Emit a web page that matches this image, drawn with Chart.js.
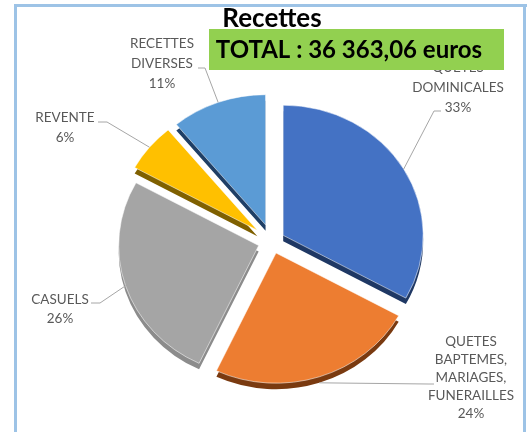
<!DOCTYPE html>
<html><head><meta charset="utf-8">
<script src="https://cdn.jsdelivr.net/npm/chart.js@4/dist/chart.umd.min.js"></script>
<style>html,body{margin:0;padding:0;background:#fff;}#wrap{width:527px;height:432px;position:relative}canvas{display:block}</style>
</head><body><div id="wrap"><canvas id="c" width="527" height="432"></canvas></div>
<script>
// ---- data ----
const categories = [
  ['QUETES', 'DOMINICALES'],
  ['QUETES', 'BAPTEMES,', 'MARIAGES,', 'FUNERAILLES'],
  ['CASUELS'],
  ['REVENTE'],
  ['RECETTES', 'DIVERSES']
];
const shares = [33, 24, 26, 6, 11];
const titleText = 'Recettes';
const totalText = 'TOTAL : 36 363,06 euros';

// ---- styles ----
const colors = ['#4472C4', '#ED7D31', '#A5A5A5', '#FFC000', '#5B9BD5'];
const depthColors = ['#1F3864', '#7A3A10', '#8C8C8C', '#7F6000', '#1F3F66'];
const explode = [13, 13, 14, 19, 19];
const Y_SQUASH = 0.93;
const DEPTH = 6;
const FONT = 'Lato, "Liberation Sans", sans-serif';
const labelLayout = [
  {x: 458, y: 68,  lh: 20, attach: [441, 111], elbow: [434, 111]},
  {x: 471, y: 342, lh: 18, attach: [434, 384], elbow: [428, 384]},
  {x: 60,  y: 300, lh: 19, attach: [91, 303],  elbow: [100, 303]},
  {x: 65,  y: 118, lh: 20, attach: [98, 122],  elbow: [107, 122]},
  {x: 162, y: 44,  lh: 20, attach: [198, 68],  elbow: [205, 68]}
];

function drawArcShifted(ctx, arc, i, bg, dy) {
  const a = (arc.startAngle + arc.endAngle) / 2;
  const fake = Object.create(arc);
  fake.options = Object.assign({}, arc.options, {backgroundColor: bg, offset: 0});
  if (dy) fake.options.borderWidth = 0;
  ctx.save();
  ctx.translate(Math.cos(a) * explode[i], Math.sin(a) * explode[i] + dy);
  fake.draw(ctx);
  ctx.restore();
}

const pie3d = {
  id: 'pie3d',
  beforeDraw(chart) {
    const ctx = chart.ctx;
    ctx.save();
    ctx.fillStyle = '#fff';
    ctx.fillRect(0, 0, chart.width, chart.height);
    ctx.fillStyle = '#9DC3E6';
    ctx.fillRect(14, 4, 3, 428);
    ctx.fillRect(14, 4, 513, 3);
    ctx.fillRect(523, 4, 3, 428);
    ctx.restore();
  },
  beforeDatasetsDraw(chart) {
    const ctx = chart.ctx;
    const meta = chart.getDatasetMeta(0);
    const cx = meta.data[0].x, cy = meta.data[0].y;
    ctx.save();
    ctx.translate(cx, cy);
    ctx.scale(1, Y_SQUASH);
    ctx.translate(-cx, -cy);
    meta.data.forEach((arc, i) => drawArcShifted(ctx, arc, i, depthColors[i], DEPTH / Y_SQUASH));
    meta.data.forEach((arc, i) => drawArcShifted(ctx, arc, i, colors[i], 0));
    ctx.restore();
  },
  beforeDatasetDraw() {
    return false;
  },
  afterDatasetsDraw(chart) {
    const ctx = chart.ctx;
    const meta = chart.getDatasetMeta(0);
    const total = shares.reduce((a, b) => a + b, 0);
    ctx.save();
    meta.data.forEach((arc, i) => {
      const L = labelLayout[i];
      const a = (arc.startAngle + arc.endAngle) / 2;
      const d = explode[i] + arc.outerRadius;
      const px = arc.x + Math.cos(a) * d;
      let py = arc.y + Math.sin(a) * d * Y_SQUASH;
      if (Math.sin(a) > 0.5) py += DEPTH;
      ctx.strokeStyle = '#A6A6A6';
      ctx.lineWidth = 1;
      ctx.beginPath();
      ctx.moveTo(L.attach[0], L.attach[1]);
      ctx.lineTo(L.elbow[0], L.elbow[1]);
      ctx.lineTo(px, py);
      ctx.stroke();
      const lines = categories[i].concat([Math.round(shares[i] / total * 100) + '%']);
      ctx.fillStyle = '#595959';
      ctx.font = '13.5px ' + FONT;
      ctx.textAlign = 'center';
      ctx.textBaseline = 'middle';
      lines.forEach((s, k) => ctx.fillText(s, L.x, L.y + k * L.lh));
    });
    // title
    ctx.fillStyle = '#000';
    ctx.font = 'bold 26px ' + FONT;
    ctx.textAlign = 'center';
    ctx.textBaseline = 'middle';
    ctx.fillText(titleText, 272, 19);
    // total box
    ctx.fillStyle = '#92D050';
    ctx.fillRect(209, 29, 295, 41);
    ctx.fillStyle = '#000';
    ctx.font = 'bold 24px ' + FONT;
    ctx.fillText(totalText, 349, 50);
    ctx.restore();
  }
};

new Chart(document.getElementById('c'), {
  type: 'pie',
  data: {
    labels: categories,
    datasets: [{
      data: shares,
      backgroundColor: colors,
      borderColor: 'rgba(255,255,255,0.55)',
      borderWidth: 1,
      radius: 140,
      clip: false
    }]
  },
  options: {
    responsive: false,
    devicePixelRatio: 1,
    animation: false,
    layout: {padding: {left: 60, right: 43, top: 80, bottom: 29}},
    plugins: {legend: {display: false}, tooltip: {enabled: false}, title: {display: false}}
  },
  plugins: [pie3d]
});
</script>
</body></html>
